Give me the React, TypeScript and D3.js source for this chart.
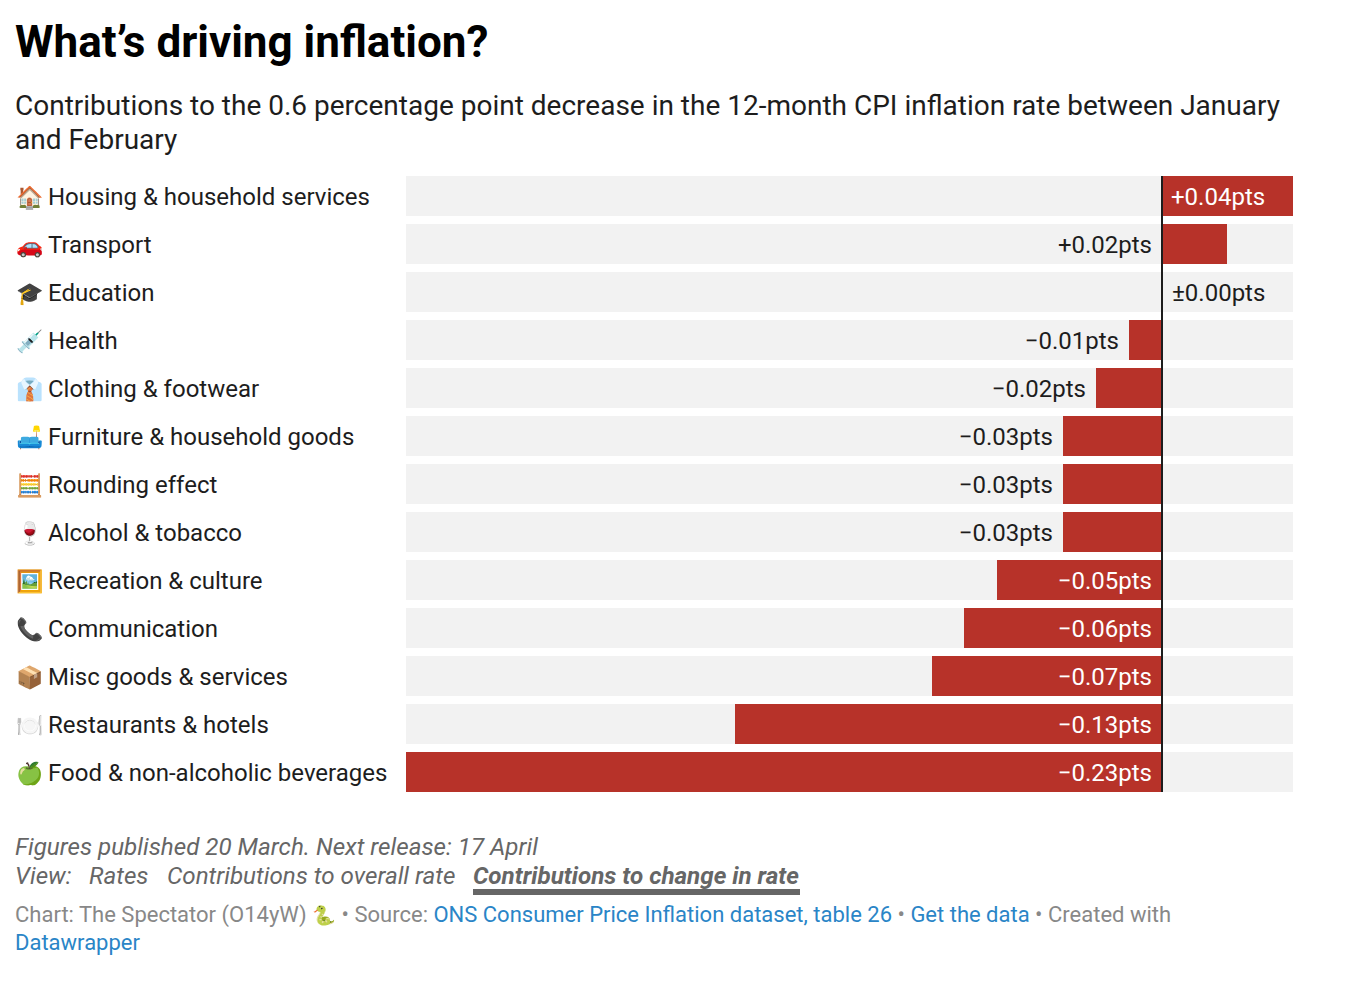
import * as d3 from "d3";

const categories = [
  "Housing & household services",
  "Transport",
  "Education",
  "Health",
  "Clothing & footwear",
  "Furniture & household goods",
  "Rounding effect",
  "Alcohol & tobacco",
  "Recreation & culture",
  "Communication",
  "Misc goods & services",
  "Restaurants & hotels",
  "Food & non-alcoholic beverages",
];
const icons = ["🏠", "🚗", "🎓", "💉", "👔", "🛋️", "🧮", "🍷", "🖼️", "📞", "📦", "🍽️", "🍏"];
const values = [0.04, 0.02, 0, -0.01, -0.02, -0.03, -0.03, -0.03, -0.05, -0.06, -0.07, -0.13, -0.23];
const valueLabels = [
  "+0.04pts", "+0.02pts", "±0.00pts", "−0.01pts", "−0.02pts", "−0.03pts", "−0.03pts",
  "−0.03pts", "−0.05pts", "−0.06pts", "−0.07pts", "−0.13pts", "−0.23pts",
];

const width = 1358;
const height = 1002;
const font = "Roboto, sans-serif";
const red = "#b73229";
const blue = "#2a85c7";

export default function App() {
  const x = d3.scaleLinear().domain([-0.23, 0.04]).rangeRound([406, 1293]);
  const y = d3
    .scaleBand<string>()
    .domain(categories)
    .range([176, 792])
    .paddingInner(8 / 48)
    .paddingOuter(0);

  return (
    <div style={{ position: "absolute", left: 0, top: 0 }}>
      <svg width={width} height={height} style={{ display: "block", fontFamily: font }}>
        <rect width={width} height={height} fill="#fff" />
        <text x={15} y={57} fontSize={44} fontWeight={700} fill="#000">
          What’s driving inflation?
        </text>
        <text x={15} y={115} fontSize={28} fill="#1d1d1d">
          Contributions to the 0.6 percentage point decrease in the 12-month CPI inflation rate between January
        </text>
        <text x={15} y={149} fontSize={28} fill="#1d1d1d">
          and February
        </text>

        {categories.map((c, i) => {
          const v = values[i];
          const by = y(c)!;
          const bh = y.bandwidth();
          const barW = Math.abs(x(v) - x(0));
          const barX = Math.min(x(v), x(0));
          // label sits inside the bar if it fits, otherwise outside it
          const inside = barW > 110;
          const neg = v < 0;
          const lx = inside
            ? neg ? x(0) - 10 : x(0) + 9
            : v === 0 ? x(0) + 10 : barX - 10;
          const anchor = inside ? (neg ? "end" : "start") : v === 0 ? "start" : "end";
          return (
            <g key={c}>
              <text x={16} y={by + 29} fontSize={22} fill="#1d1d1d">{icons[i]}</text>
              <text x={48} y={by + 29} fontSize={24} fill="#1d1d1d">{c}</text>
              <rect x={x.range()[0]} y={by} width={x.range()[1] - x.range()[0]} height={bh} fill="#f2f2f2" />
              <rect x={barX} y={by} width={barW} height={bh} fill={red} />
              <text x={lx} y={by + 29} fontSize={24} textAnchor={anchor} fill={inside ? "#fff" : "#1d1d1d"}>
                {valueLabels[i]}
              </text>
            </g>
          );
        })}
        <line x1={x(0)} x2={x(0)} y1={176} y2={792} stroke="#1d1d1d" strokeWidth={2} />

        <g fontSize={24.2} fontStyle="italic" fill="#666">
          <text x={15} y={855}>Figures published 20 March. Next release: 17 April</text>
          <text x={15} y={884}>View:</text>
          <text x={89} y={884}>Rates</text>
          <text x={167} y={884}>Contributions to overall rate</text>
          <text x={473} y={884} fontWeight={700}>Contributions to change in rate</text>
          <rect x={473} y={889} width={327} height={6} fill="#666" />
        </g>
        <g fontSize={22} fill="#888">
          <text x={15} y={922}>
            Chart: The Spectator (O14yW) <tspan fontSize={19}>🐍</tspan> • Source: <tspan fill={blue}>ONS Consumer Price Inflation dataset, table 26</tspan> • <tspan fill={blue}>Get the data</tspan> • Created with
          </text>
          <text x={15} y={950} fill={blue}>Datawrapper</text>
        </g>
      </svg>
    </div>
  );
}
